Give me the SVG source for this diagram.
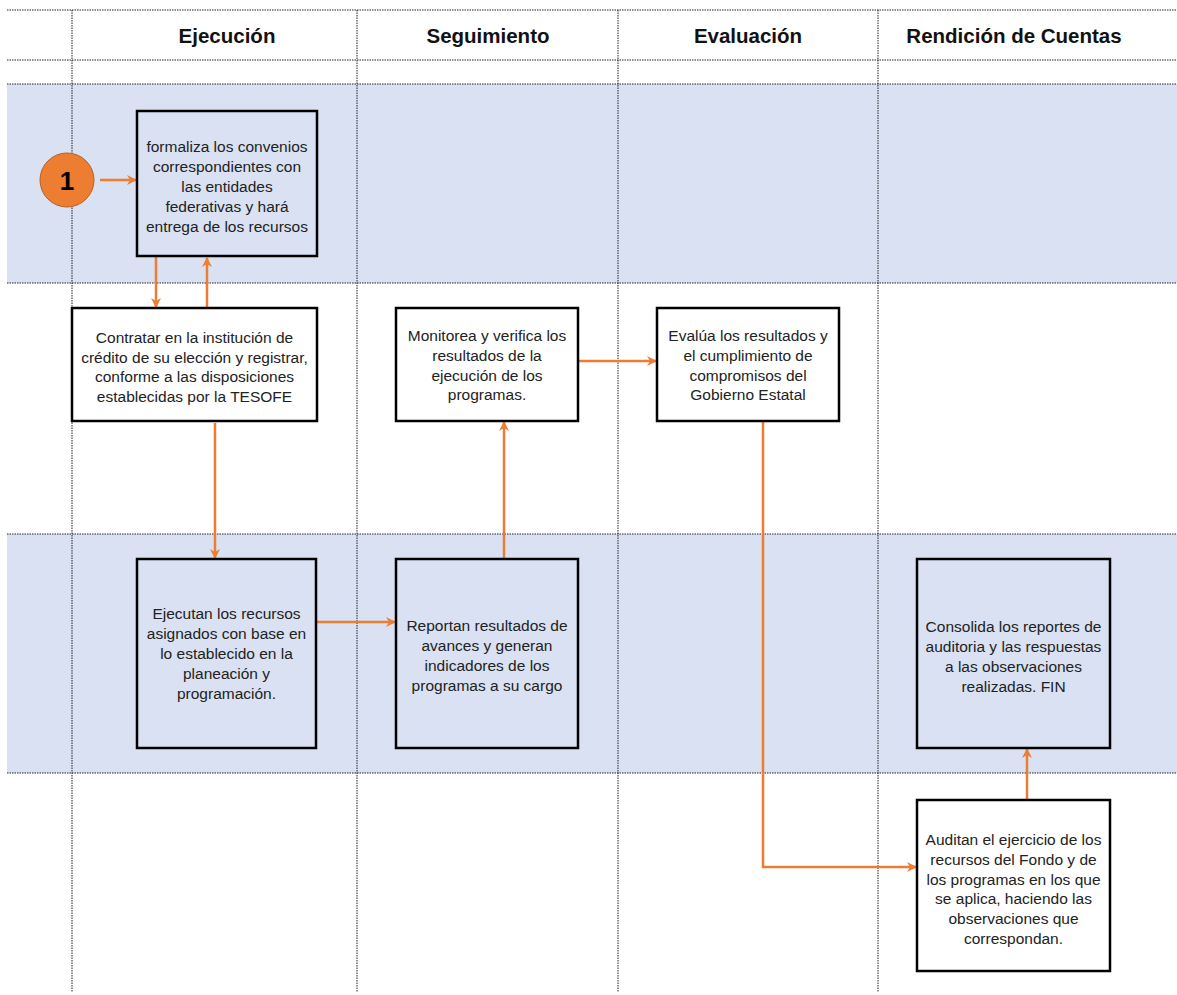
<svg xmlns="http://www.w3.org/2000/svg" width="1177" height="995" viewBox="0 0 1177 995">
<style>
.band{fill:#D9E1F2}
.grid{stroke:#222;stroke-width:1;stroke-dasharray:1.5 1;fill:none}
.hdr{font-family:"Liberation Sans",Arial,sans-serif;font-size:20.5px;font-weight:bold;fill:#111;text-anchor:middle}
.box{stroke:#000;stroke-width:2.5}
.blue{fill:#D9E1F2}
.white{fill:#fff}
.t{font-family:"Liberation Sans",Arial,sans-serif;font-size:15.5px;fill:#222;text-anchor:middle}
.c{stroke:#ED7D31;stroke-width:2.5;fill:none}
</style>
<defs>
<marker id="ah" viewBox="0 0 10 10" refX="9" refY="5" markerWidth="4" markerHeight="4" orient="auto" markerUnits="strokeWidth">
<path d="M0,0 L10,5 L0,10 L3,5 Z" fill="#ED7D31"/>
</marker>
</defs>
<rect width="1177" height="995" fill="#fff"/>
<g id="bands">
<rect class="band" x="7" y="84" width="1170" height="199"/>
<rect class="band" x="7" y="534" width="1170" height="239"/>
</g>
<g id="grid">
<line class="grid" x1="7" y1="10" x2="1177" y2="10"/>
<line class="grid" x1="7" y1="60" x2="1177" y2="60"/>
<line class="grid" x1="7" y1="84" x2="1177" y2="84"/>
<line class="grid" x1="7" y1="283" x2="1177" y2="283"/>
<line class="grid" x1="7" y1="534" x2="1177" y2="534"/>
<line class="grid" x1="7" y1="773" x2="1177" y2="773"/>
<line class="grid" x1="72" y1="10" x2="72" y2="992"/>
<line class="grid" x1="357" y1="10" x2="357" y2="992"/>
<line class="grid" x1="618" y1="10" x2="618" y2="992"/>
<line class="grid" x1="878" y1="10" x2="878" y2="992"/>
</g>
<g id="headers">
<text class="hdr" x="227" y="43">Ejecución</text>
<text class="hdr" x="488" y="43">Seguimiento</text>
<text class="hdr" x="748" y="43">Evaluación</text>
<text class="hdr" x="1014" y="43">Rendición de Cuentas</text>
</g>
<g id="connectors">
<line class="c" x1="100" y1="180" x2="136" y2="180" marker-end="url(#ah)"/>
<line class="c" x1="156" y1="257" x2="156" y2="307" marker-end="url(#ah)"/>
<line class="c" x1="207" y1="308" x2="207" y2="258" marker-end="url(#ah)"/>
<line class="c" x1="215" y1="423" x2="215" y2="558" marker-end="url(#ah)"/>
<line class="c" x1="578" y1="361" x2="656" y2="361" marker-end="url(#ah)"/>
<line class="c" x1="316" y1="622" x2="395" y2="622" marker-end="url(#ah)"/>
<line class="c" x1="504" y1="558" x2="504" y2="422" marker-end="url(#ah)"/>
<polyline class="c" points="763,422 763,867 916,867" marker-end="url(#ah)"/>
<line class="c" x1="1027" y1="800" x2="1027" y2="749" marker-end="url(#ah)"/>
</g>
<g id="start">
<circle cx="67" cy="180" r="27" fill="#ED7D31" stroke="#B85F22" stroke-width="1"/>
<text x="67" y="189.5" font-family="Liberation Sans,Arial,sans-serif" font-size="26" font-weight="bold" fill="#000" text-anchor="middle">1</text>
</g>
<g id="n1">
<rect class="box blue" x="137" y="111" width="180" height="145"/>
<text class="t" x="227" y="151.5">formaliza los convenios</text>
<text class="t" x="227" y="171.5">correspondientes con</text>
<text class="t" x="227" y="191.5">las entidades</text>
<text class="t" x="227" y="211.5">federativas y hará</text>
<text class="t" x="227" y="231.5">entrega de los recursos</text>
</g>
<g id="n2">
<rect class="box white" x="72" y="308" width="245" height="113"/>
<text class="t" x="194.5" y="342.5">Contratar en la institución de</text>
<text class="t" x="194.5" y="362.5">crédito de su elección y registrar,</text>
<text class="t" x="194.5" y="381.5">conforme a las disposiciones</text>
<text class="t" x="194.5" y="401.5">establecidas por la TESOFE</text>
</g>
<g id="n3">
<rect class="box white" x="396" y="308" width="182" height="113"/>
<text class="t" x="487" y="340.5">Monitorea y verifica los</text>
<text class="t" x="487" y="360.5">resultados de la</text>
<text class="t" x="487" y="380.5">ejecución de los</text>
<text class="t" x="487" y="399.5">programas.</text>
</g>
<g id="n4">
<rect class="box white" x="657" y="308" width="182" height="113"/>
<text class="t" x="748" y="340.5">Evalúa los resultados y</text>
<text class="t" x="748" y="360.5">el cumplimiento de</text>
<text class="t" x="748" y="380.5">compromisos del</text>
<text class="t" x="748" y="399.5">Gobierno Estatal</text>
</g>
<g id="n5">
<rect class="box blue" x="137" y="559" width="179" height="189"/>
<text class="t" x="226.5" y="618.5">Ejecutan los recursos</text>
<text class="t" x="226.5" y="638.5">asignados con base en</text>
<text class="t" x="226.5" y="658.5">lo establecido en la</text>
<text class="t" x="226.5" y="678.5">planeación y</text>
<text class="t" x="226.5" y="698.5">programación.</text>
</g>
<g id="n6">
<rect class="box blue" x="396" y="559" width="182" height="189"/>
<text class="t" x="487" y="630.5">Reportan resultados de</text>
<text class="t" x="487" y="650.5">avances y generan</text>
<text class="t" x="487" y="670.5">indicadores de los</text>
<text class="t" x="487" y="690.5">programas a su cargo</text>
</g>
<g id="n7">
<rect class="box blue" x="917" y="559" width="193" height="189"/>
<text class="t" x="1013.5" y="631.5">Consolida los reportes de</text>
<text class="t" x="1013.5" y="651.5">auditoria y las respuestas</text>
<text class="t" x="1013.5" y="671.5">a las observaciones</text>
<text class="t" x="1013.5" y="691.5">realizadas. FIN</text>
</g>
<g id="n8">
<rect class="box white" x="917" y="800" width="193" height="171"/>
<text class="t" x="1013.5" y="844.5">Auditan el ejercicio de los</text>
<text class="t" x="1013.5" y="864.5">recursos del Fondo y de</text>
<text class="t" x="1013.5" y="884.5">los programas en los que</text>
<text class="t" x="1013.5" y="903.5">se aplica, haciendo las</text>
<text class="t" x="1013.5" y="923.5">observaciones que</text>
<text class="t" x="1013.5" y="943.5">correspondan.</text>
</g>
</svg>
